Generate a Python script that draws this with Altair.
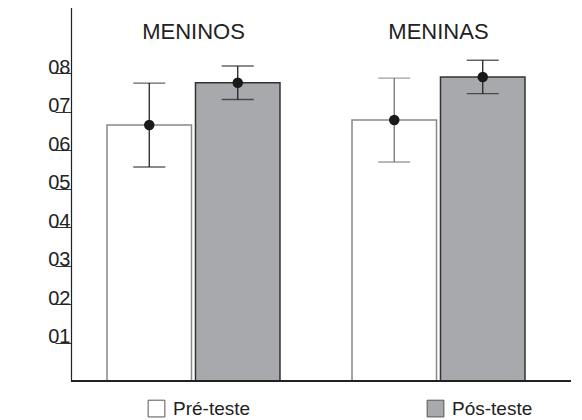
import altair as alt
import pandas as pd

grupos = ["MENINOS", "MENINAS"]
testes = ["Pré-teste", "Pós-teste"]
medias = {"MENINOS": [66.5, 77.5], "MENINAS": [67.8, 79.0]}
erros = {"MENINOS": [10.9, 4.35], "MENINAS": [10.9, 4.35]}
y_ticks = [10, 20, 30, 40, 50, 60, 70, 80]

rows = []
for g in grupos:
    for i, t in enumerate(testes):
        m = medias[g][i]
        e = erros[g][i]
        rows.append({"grupo": g, "teste": t, "media": m, "lo": m - e, "hi": m + e})
df = pd.DataFrame(rows)

FONT = "Liberation Sans"

x = alt.X("grupo:N", sort=grupos,
          scale=alt.Scale(paddingInner=0.294, paddingOuter=0.1674, align=0.439),
          axis=alt.Axis(orient="top", title=None, domain=False, ticks=False, tickSize=0,
                        labelPadding=-38, labelAngle=0, labelFontSize=22,
                        labelColor="#222", labelFont=FONT))
xo = alt.XOffset("teste:N", sort=testes, scale=alt.Scale(paddingInner=0.045, paddingOuter=0))
yscale = alt.Scale(domain=[0, 97.7], nice=False)

base = alt.Chart(df)

bars = base.mark_bar(strokeWidth=1.5).encode(
    x=x, xOffset=xo,
    y=alt.Y("media:Q", scale=yscale,
            axis=alt.Axis(values=y_ticks, labelExpr="'0' + (datum.value / 10)",
                          title=None, grid=False, domainColor="#222", domainWidth=1.2,
                          tickColor="#333", tickWidth=1, tickSize=16, labelPadding=-15,
                          labelBaseline="alphabetic", labelFontSize=20,
                          labelColor="#222", labelFont=FONT)),
    fill=alt.Fill("teste:N", sort=testes,
                  scale=alt.Scale(domain=testes, range=["#ffffff", "#a8a9ac"]),
                  legend=alt.Legend(title=None, orient="none", direction="horizontal",
                                    legendX=76, legendY=394, columnPadding=174,
                                    symbolType="square", symbolSize=280,
                                    symbolStrokeColor="#555", symbolStrokeWidth=1,
                                    labelFontSize=19, labelColor="#222", labelFont=FONT,
                                    labelOffset=7, padding=0)),
    stroke=alt.condition("datum.teste == 'Pré-teste'", alt.value("#888888"), alt.value("#333333")),
)

err_color = alt.condition("datum.grupo == 'MENINAS' && datum.teste == 'Pré-teste'",
                          alt.value("#777777"), alt.value("#222222"))

rules = base.mark_rule(strokeWidth=1.3).encode(
    x=x, xOffset=xo, y=alt.Y("lo:Q", scale=yscale), y2="hi:Q", color=err_color)
cap_hi = base.mark_tick(size=32, thickness=1.3).encode(
    x=x, xOffset=xo, y=alt.Y("hi:Q", scale=yscale), color=err_color)
cap_lo = base.mark_tick(size=32, thickness=1.3).encode(
    x=x, xOffset=xo, y=alt.Y("lo:Q", scale=yscale), color=err_color)
dots = base.mark_circle(size=110, opacity=1, color="#1a1a1a").encode(
    x=x, xOffset=xo, y=alt.Y("media:Q", scale=yscale))

baseline = alt.Chart(df).mark_rule(color="#222", strokeWidth=1.5).encode(y=alt.datum(0))

chart = alt.layer(bars, rules, cap_hi, cap_lo, dots, baseline).properties(
    width=500, height=376,
    autosize=alt.AutoSizeParams(type="none"),
    padding={"left": 63, "top": -3, "right": 0, "bottom": 40},
    background="white",
).configure_view(strokeWidth=0)

chart.save("out.html", embed_options={"renderer": "svg", "actions": False})
